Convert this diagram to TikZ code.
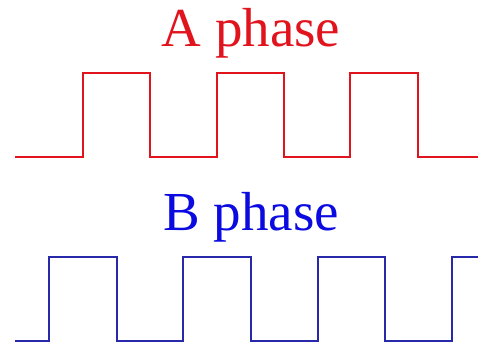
\documentclass[tikz,border=0pt]{standalone}
\usepackage{fontspec}
\setmainfont{Liberation Serif}
\usetikzlibrary{positioning}
\definecolor{phasered}{RGB}{225,20,30}
\definecolor{phaseblue}{RGB}{10,10,225}
\definecolor{waveblue}{RGB}{40,40,170}
\tikzset{
  phaselabel/.style={anchor=base, inner sep=0pt, font=\fontsize{55}{60}\selectfont},
  wavea/.style={draw=phasered, line width=1.2pt, line join=miter},
  waveb/.style={draw=waveblue, line width=1.3pt, line join=miter}
}
\begin{document}
\begin{tikzpicture}[x=1pt,y=1pt]
    \useasboundingbox (0,0) rectangle (478,-347);
    \node[phaselabel,text=phasered] (alabel) at (251,-47) {A phase};
    \node[phaselabel,text=phaseblue] (blabel) at (251,-230) {B phase};

    % A phase
    \draw[wavea] (15,-157) -- (83,-157) -- (83,-73) -- (150,-73) -- (150,-157)
      -- (217,-157) -- (217,-73) -- (284,-73) -- (284,-157)
      -- (350,-157) -- (350,-73) -- (418,-73) -- (418,-157) -- (478,-157);
    % B phase
    \draw[waveb] (15,-341) -- (49,-341) -- (49,-257) -- (117,-257) -- (117,-341)
      -- (183,-341) -- (183,-257) -- (251,-257) -- (251,-341)
      -- (318,-341) -- (318,-257) -- (385,-257) -- (385,-341)
      -- (452,-341) -- (452,-257) -- (478,-257);
  \end{tikzpicture}
\end{document}
